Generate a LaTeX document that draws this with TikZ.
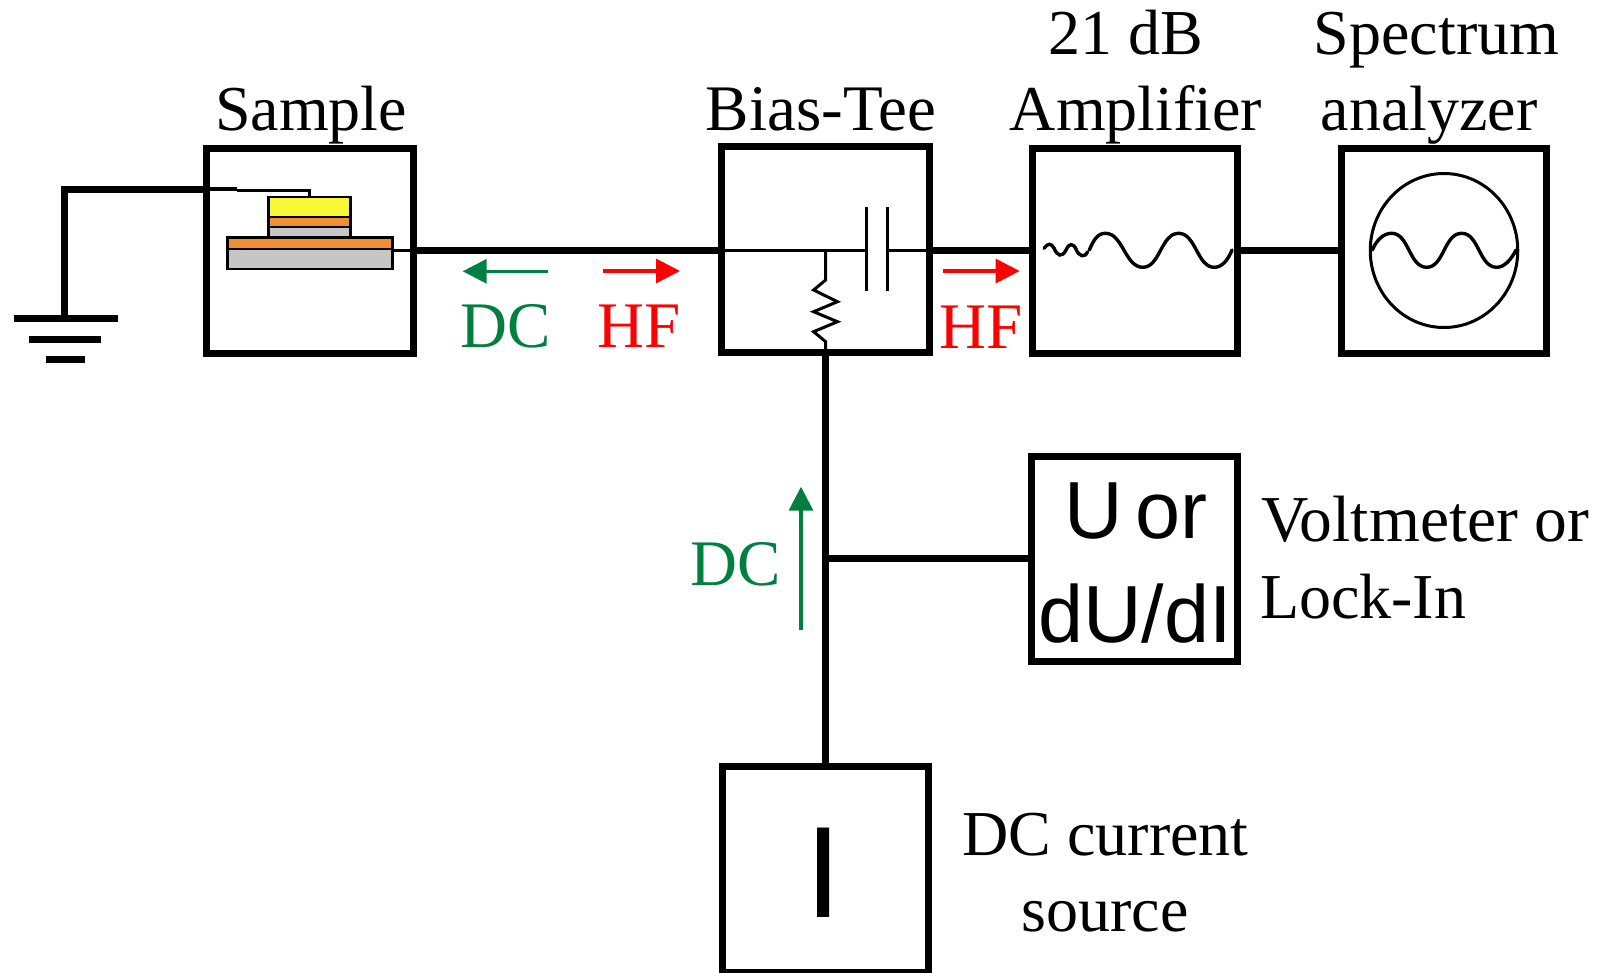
\documentclass[tikz,border=0pt]{standalone}
\usepackage{fontspec}
\setmainfont{Liberation Serif}
\newfontfamily\arialfont{Liberation Sans}
\usetikzlibrary{arrows.meta,shapes.geometric}
\definecolor{dcgreen}{HTML}{007F40}
\definecolor{hfred}{HTML}{FF0000}
\definecolor{lyellow}{HTML}{F7F733}
\definecolor{lorange}{HTML}{F09030}
\definecolor{lgray}{HTML}{C6C6C6}
\tikzset{
  devbox/.style={draw=black,line width=7pt,rectangle,inner sep=0pt,outer sep=0pt,anchor=north west},
  wire/.style={draw=black,line width=7pt},
  thinwire/.style={draw=black,line width=3pt},
  sinewave/.style={draw=black,line width=3.4pt,line cap=round},
  layer/.style={draw=black,line width=2.6pt,rectangle,inner sep=0pt,outer sep=0pt,anchor=north west},
  lab/.style={inner sep=0pt,outer sep=0pt,anchor=base,font=\fontsize{64}{64}\selectfont},
  labb/.style={inner sep=0pt,outer sep=0pt,anchor=base,font=\fontsize{65}{65}\selectfont},
  labl/.style={lab,anchor=base west},
  glyph/.style={inner sep=0pt,outer sep=0pt,anchor=base,font=\arialfont\fontsize{81}{81}\selectfont},
  sigarrow/.style={line width=3.3pt,-{Triangle[length=24pt,width=24pt]}},
  gndbar/.style={fill=black,draw=none},
}
\begin{document}
\begin{tikzpicture}[x=1pt,y=-1pt]
\useasboundingbox (0,0) rectangle (1602,972);
% boxes
\node[devbox,minimum width=207.4pt,minimum height=205.4pt] (sample) at (206,148) {};
\node[devbox,minimum width=208.2pt,minimum height=205.7pt] (tee) at (721.3,146.7) {};
\node[devbox,minimum width=205.6pt,minimum height=205pt] (amp) at (1032,148.3) {};
\node[devbox,minimum width=205pt,minimum height=205pt] (spec) at (1341.7,148.3) {};
\node[devbox,minimum width=206pt,minimum height=205pt] (meter) at (1031.5,456.7) {};
\node[devbox,minimum width=206pt,minimum height=206pt] (src) at (722.6,766.5) {};
% main wires
\coordinate (junc) at (825.7,558.7);
\coordinate (teeb) at (825.7,352.4);
\draw[wire] (sample.east |- 0,250) -- (tee.west |- 0,250);
\draw[wire] (tee.east |- 0,250.7) -- (amp.west |- 0,250.7);
\draw[wire] (amp.east |- 0,250.7) -- (spec.west |- 0,250.7);
\draw[wire] (teeb) -- (teeb |- src.north);
\draw[wire] (junc) -- (meter.west |- junc);
% ground
\coordinate (gndtop) at (64.5,318);
\draw[wire] (gndtop) -- (64.5,189) -- (sample.west |- 0,189);
\fill[gndbar] (14,315) rectangle (118,322);
\fill[gndbar] (29.3,336) rectangle (101.3,342.7);
\fill[gndbar] (46,356) rectangle (84.7,363);
% sample stack
\node[layer,fill=lgray,minimum width=165pt,minimum height=31.5pt] (sub) at (227.3,237.5) {};
\node[layer,fill=lorange,minimum width=165pt,minimum height=11.5pt] (bot) at (227.3,237.5) {};
\node[layer,fill=lgray,minimum width=82pt,minimum height=11pt] (l3) at (268.5,226.5) {};
\node[layer,fill=lorange,minimum width=82pt,minimum height=10.5pt] (l2) at (268.5,216.5) {};
\node[layer,fill=lyellow,minimum width=82pt,minimum height=20pt] (l1) at (268.5,196.8) {};
\draw[thinwire,line width=4pt] (sample.west |- 0,189.3) -- (236.7,189.3);
\draw[thinwire] (236.7,190) -- (l1.north |- 0,190) -- (l1.north);
\draw[thinwire] (sub.east |- 0,250) -- (sample.east |- 0,250);
% bias-tee internals
\coordinate (capl) at (866.4,250);
\coordinate (capr) at (887.9,250);
\coordinate (rtop) at (825.7,250);
\draw[thinwire] (tee.west |- capl) -- (capl);
\draw[thinwire] (capr) -- (tee.east |- capr);
\draw[thinwire] (866.4,207.3) -- (866.4,291.3);
\draw[thinwire] (887.9,207.3) -- (887.9,291.3);
\draw[thinwire,line join=miter] (rtop) -- (825.7,280) -- (813.6,290) -- (837.5,301.7) -- (813.6,311.7) -- (837.5,321.7) -- (813.6,331.7) -- (825.7,341.7) -- (teeb);
% waves
\draw[sinewave] (1044,248.3) .. controls (1048,243) and (1051,243) .. (1054,248) .. controls (1057,256) and (1062,258) .. (1066,250) .. controls (1069,243) and (1073,243) .. (1076,249) .. controls (1079,257) and (1085,258) .. (1087.5,251.7);
\draw[sinewave] (1089.3,250) .. controls (1094,239) and (1098,233.3) .. (1105.4,233.3) .. controls (1123,233.3) and (1125,267.3) .. (1142.9,267.3) .. controls (1160,267.3) and (1161,233.3) .. (1178.6,233.3) .. controls (1196,233.3) and (1197,267.3) .. (1214.3,267.3) .. controls (1222,267.3) and (1228,260) .. (1232,250);
\node[ellipse,draw=black,line width=3pt,minimum width=147.5pt,minimum height=154pt,inner sep=0pt,outer sep=0pt] (scope) at (1444,250.5) {};
\draw[sinewave] (1372.3,250) .. controls (1377,239) and (1384,233.3) .. (1391.7,233.3) .. controls (1409,233.3) and (1409,267.3) .. (1426.7,267.3) .. controls (1444,267.3) and (1444,233.3) .. (1461.7,233.3) .. controls (1479,233.3) and (1479,267.3) .. (1496.7,267.3) .. controls (1504,267.3) and (1511,260) .. (1516,250);
% signal arrows
\coordinate (a1t) at (548,271.3); \coordinate (a1h) at (462.7,271.3);
\coordinate (a2t) at (602.7,271); \coordinate (a2h) at (680,271);
\coordinate (a3t) at (943,271); \coordinate (a3h) at (1019.6,271);
\coordinate (a4t) at (801,630); \coordinate (a4h) at (801,486.7);
\draw[sigarrow,dcgreen] (a1t) -- (a1h);
\draw[sigarrow,hfred] (a2t) -- (a2h);
\draw[sigarrow,hfred] (a3t) -- (a3h);
\draw[sigarrow,dcgreen] (a4t) -- (a4h);
% labels
\node[lab] (tsample) at (311,130) {Sample};
\node[labb] (ttee) at (821,130) {Bias-Tee};
\node[lab] (t21) at (1125.5,54) {21 dB};
\node[lab] (tamp) at (1136,130) {Amplifier};
\node[lab] (tspec) at (1436.5,54) {Spectrum};
\node[lab] (tana) at (1429,130) {analyzer};
\node[labl,font=\fontsize{65.5}{65.5}\selectfont] (tvolt) at (1261,541.5) {Voltmeter or};
\node[labl] (tlock) at (1260,618) {Lock-In};
\node[lab] (tdc) at (1105.5,855) {DC current};
\node[lab] (tsrc) at (1105,931) {source};
\node[labb,text=dcgreen] (dc1) at (505.5,347.7) {DC};
\node[labb,text=hfred] (hf1) at (639.5,347.7) {HF};
\node[labb,text=hfred] (hf2) at (981.5,348.3) {HF};
\node[labb,text=dcgreen] (dc2) at (735.5,585.7) {DC};
\node[glyph] (tu) at (1136,538) {U\hspace{-10pt} or};
\node[glyph] (tdu) at (1135,642) {dU/dI};
\node[inner sep=0pt,outer sep=0pt,anchor=base,font=\arialfont\fontsize{130}{130}\selectfont] (ti) at (823.5,917.5) {I};
\end{tikzpicture}
\end{document}
